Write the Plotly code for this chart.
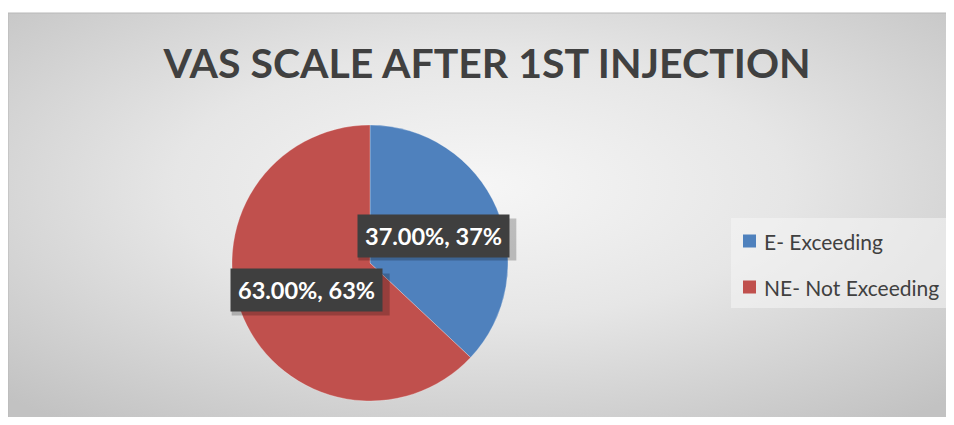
import base64
import math
import plotly.graph_objects as go

# ---- data ----
labels = ["E- Exceeding", "NE- Not Exceeding"]
values = [37, 63]
colors = ["#4f81bd", "#c0504d"]
title_text = "VAS SCALE AFTER 1ST INJECTION"

# ---- layout constants (pixels, in screenshot coordinates) ----
OX, OY = 8, 8                      # body margin of the page
W, H = 954 - 2 * OX, 425 - 2 * OY  # figure size (fits the window)
FONT = "Lato"
CX, CY, R = 370, 263, 138          # pie centre / radius
CHART_X0, CHART_Y0 = 8, 13         # chart area top-left
CHART_W, CHART_H = 946, 412        # chart area size (gradient extent)


def px(x):
    return (x - OX) / W


def py(y):
    return 1 - (y - OY) / H


total = sum(values)
pct = [v / total * 100 for v in values]
label_texts = [f"{p:.2f}%, {v:g}%" for p, v in zip(pct, values)]

fig = go.Figure()
fig.add_trace(go.Pie(
    labels=labels,
    values=values,
    marker=dict(colors=colors, line=dict(color="rgba(255,255,255,0.5)", width=0.5)),
    sort=False,
    direction="clockwise",
    rotation=0,
    textinfo="none",
    hoverinfo="label+percent",
    showlegend=False,
    domain=dict(x=[px(CX - R), px(CX + R)], y=[py(CY + R), py(CY - R)]),
))

# background gradient image
svg = ('<svg xmlns="http://www.w3.org/2000/svg" width="946" height="412" preserveAspectRatio="none">'
       '<defs><radialGradient id="g" cx="50%" cy="42%" r="72%">'
       '<stop offset="0" stop-color="#f6f6f6"/><stop offset="0.45" stop-color="#e6e6e6"/>'
       '<stop offset="1" stop-color="#c2c2c2"/></radialGradient></defs>'
       '<rect width="100%" height="100%" fill="url(#g)"/></svg>')
src = "data:image/svg+xml;base64," + base64.b64encode(svg.encode()).decode()

shapes = [
    dict(type="rect", xref="paper", yref="paper",
         x0=px(CHART_X0), x1=1.05, y0=-0.05, y1=py(CHART_Y0),
         line=dict(color="#b8b8b8", width=1), fillcolor="rgba(0,0,0,0)", layer="above"),
    # legend background
    dict(type="rect", xref="paper", yref="paper",
         x0=px(731), x1=1.0, y0=py(308), y1=py(218),
         line=dict(width=0), fillcolor="rgba(245,245,245,0.55)", layer="above"),
]

annotations = []
# custom legend
for i, (lab, col) in enumerate(zip(labels, colors)):
    yc = 241 + i * 46
    shapes.append(dict(type="rect", xref="paper", yref="paper",
                       x0=px(743), x1=px(756), y0=py(yc + 6.5), y1=py(yc - 6.5),
                       line=dict(width=0), fillcolor=col, layer="above"))
    annotations.append(dict(xref="paper", yref="paper", x=px(762), y=py(yc),
                            xanchor="left", yanchor="middle", showarrow=False,
                            text=lab, font=dict(family=FONT, size=21, color="#404040")))

# data labels: at half radius along each slice's mid-angle
BOX_W, BOX_H = 158, 42
cum = 0
for v, t in zip(values, label_texts):
    mid = (cum + v / 2) / total * 2 * math.pi
    cum += v
    lx = CX + 0.5 * R * math.sin(mid)
    ly = CY - 0.5 * R * math.cos(mid)
    # drop shadow
    shapes.append(dict(type="rect", xref="paper", yref="paper",
                       x0=px(lx - BOX_W / 2 + 4), x1=px(lx + BOX_W / 2 + 4),
                       y0=py(ly + BOX_H / 2 + 4), y1=py(ly - BOX_H / 2 + 4),
                       line=dict(width=0), fillcolor="rgba(0,0,0,0.22)", layer="above"))
    annotations.append(dict(xref="paper", yref="paper", x=px(lx), y=py(ly),
                            xanchor="center", yanchor="middle", showarrow=False,
                            text=f"<b>{t}</b>", borderpad=7,
                            font=dict(family=FONT, size=23.5, color="white"),
                            bgcolor="#3f3f3f"))

fig.update_layout(
    width=W, height=H,
    margin=dict(l=0, r=0, t=0, b=0),
    paper_bgcolor="white",
    plot_bgcolor="rgba(0,0,0,0)",
    title=dict(text=f"<b>{title_text}</b>", x=px(487), y=py(64), xref="paper", yref="container",
               xanchor="center", yanchor="middle",
               font=dict(family=FONT, size=41, color="#404040")),
    images=[dict(source=src, xref="paper", yref="paper", x=px(CHART_X0), y=py(CHART_Y0),
                 sizex=CHART_W / W, sizey=CHART_H / H, sizing="stretch",
                 xanchor="left", yanchor="top", layer="below")],
    shapes=shapes,
    annotations=annotations,
    showlegend=False,
)

fig.write_html("out.html")
